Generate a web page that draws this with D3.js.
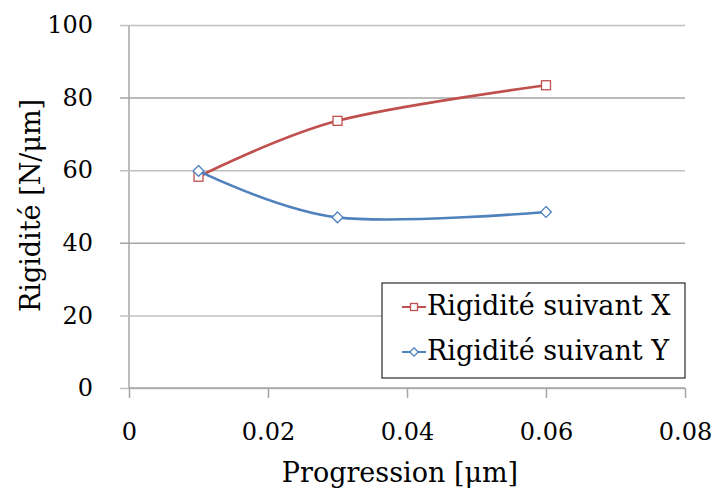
<!DOCTYPE html>
<html>
<head>
<meta charset="utf-8">
<script src="https://cdn.jsdelivr.net/npm/d3@7"></script>
<style>
  body { margin: 0; background: #fff; }
  svg text { font-family: "DejaVu Serif", serif; fill: #000; }
</style>
</head>
<body>
<svg width="713" height="493"></svg>
<script>
const progression = [0.01, 0.03, 0.06];
const rigiditeX = [58.2, 73.6, 83.4];
const rigiditeY = [59.8, 47.0, 48.5];
const seriesNames = ["Rigidité suivant X", "Rigidité suivant Y"];
const xTicks = [0, 0.02, 0.04, 0.06, 0.08];
const yTicks = [0, 20, 40, 60, 80, 100];

const svg = d3.select('svg');
const margin = { top: 25, right: 28, bottom: 105, left: 129 };
const width = +svg.attr('width');
const height = +svg.attr('height');
const innerWidth = width - margin.left - margin.right;
const innerHeight = height - margin.top - margin.bottom;
const tickFont = 24;
const labelFont = 27;

const xScale = d3.scaleLinear().domain([0, 0.08]).range([0, innerWidth]);
const yScale = d3.scaleLinear().domain([0, 100]).range([innerHeight, 0]);

const g = svg.append('g')
    .attr('transform', `translate(${margin.left},${margin.top})`);

// gridlines + y axis
const yAxis = g.append('g')
    .call(d3.axisLeft(yScale).tickValues(yTicks).tickSize(9).tickPadding(27).tickFormat(d3.format('d')));
yAxis.attr('font-family', null);
yAxis.select('.domain').attr('stroke', '#a6a6a6').attr('stroke-width', 1.5).attr('d', `M0,0V${innerHeight}`);
yAxis.selectAll('.tick line').attr('stroke', '#a6a6a6').attr('stroke-width', 1.5)
    .attr('x1', -9).attr('x2', innerWidth);
yAxis.selectAll('.tick line').filter(d => d === 20 || d === 60 || d === 0 || d === 100).attr('stroke', '#bfbfbf');
yAxis.selectAll('text').style('font-size', tickFont + 'px');

const xAxis = g.append('g')
    .attr('transform', `translate(0,${innerHeight})`)
    .call(d3.axisBottom(xScale).tickValues(xTicks).tickSize(10).tickPadding(25)
        .tickFormat(d => d === 0 ? '0' : d3.format('.2f')(d)));
xAxis.attr('font-family', null);
xAxis.select('.domain').attr('stroke', '#a6a6a6').attr('stroke-width', 1.5).attr('d', `M0,0H${innerWidth}`);
xAxis.selectAll('.tick line').attr('stroke', '#a6a6a6').attr('stroke-width', 1.5);
xAxis.selectAll('text').style('font-size', tickFont + 'px');

// axis titles
g.append('text')
    .attr('x', innerWidth / 2 - 7)
    .attr('y', innerHeight + 94)
    .attr('text-anchor', 'middle')
    .style('font-size', labelFont + 'px')
    .text('Progression [μm]');

g.append('text')
    .attr('transform', 'rotate(-90)')
    .attr('x', -innerHeight / 2 + 1)
    .attr('y', -89)
    .attr('text-anchor', 'middle')
    .style('font-size', labelFont + 'px')
    .text('Rigidité [N/μm]');

const series = [
    { name: seriesNames[0], values: rigiditeX, color: '#c0504d', marker: 'square' },
    { name: seriesNames[1], values: rigiditeY, color: '#4f81bd', marker: 'diamond' }
];

const line = d3.line()
    .x(d => xScale(d[0]))
    .y(d => yScale(d[1]))
    .curve(d3.curveCardinal.tension(0));

const drawMarker = (sel, type, color, size) => {
    if (type === 'square') {
        sel.append('rect')
            .attr('x', -size / 2).attr('y', -size / 2)
            .attr('width', size).attr('height', size)
            .attr('fill', '#fff').attr('stroke', color).attr('stroke-width', 1.3);
    } else {
        const s = size * 0.6;
        sel.append('path')
            .attr('d', `M0,${-s}L${s},0L0,${s}L${-s},0Z`)
            .attr('fill', '#fff').attr('stroke', color).attr('stroke-width', 1.3);
    }
};

series.forEach(s => {
    const pts = progression.map((x, i) => [x, s.values[i]]);
    g.append('path')
        .datum(pts)
        .attr('d', line)
        .attr('fill', 'none')
        .attr('stroke', s.color)
        .attr('stroke-width', 2.6);
    pts.forEach(p => {
        const m = g.append('g').attr('transform', `translate(${xScale(p[0])},${yScale(p[1])})`);
        drawMarker(m, s.marker, s.color, 9);
    });
});

// legend
const legend = svg.append('g').attr('transform', 'translate(382,283)');
legend.append('rect')
    .attr('width', 303).attr('height', 95)
    .attr('fill', '#fff').attr('stroke', '#000').attr('stroke-width', 1);
series.forEach((s, i) => {
    const row = legend.append('g').attr('transform', `translate(0,${24 + i * 45})`);
    row.append('line')
        .attr('x1', 20).attr('x2', 44)
        .attr('stroke', s.color).attr('stroke-width', 2);
    const m = row.append('g').attr('transform', 'translate(32,0)');
    drawMarker(m, s.marker, s.color, 7);
    row.append('text')
        .attr('x', 45).attr('y', 8)
        .style('font-size', labelFont + 'px')
        .text(s.name);
});
</script>
</body>
</html>
